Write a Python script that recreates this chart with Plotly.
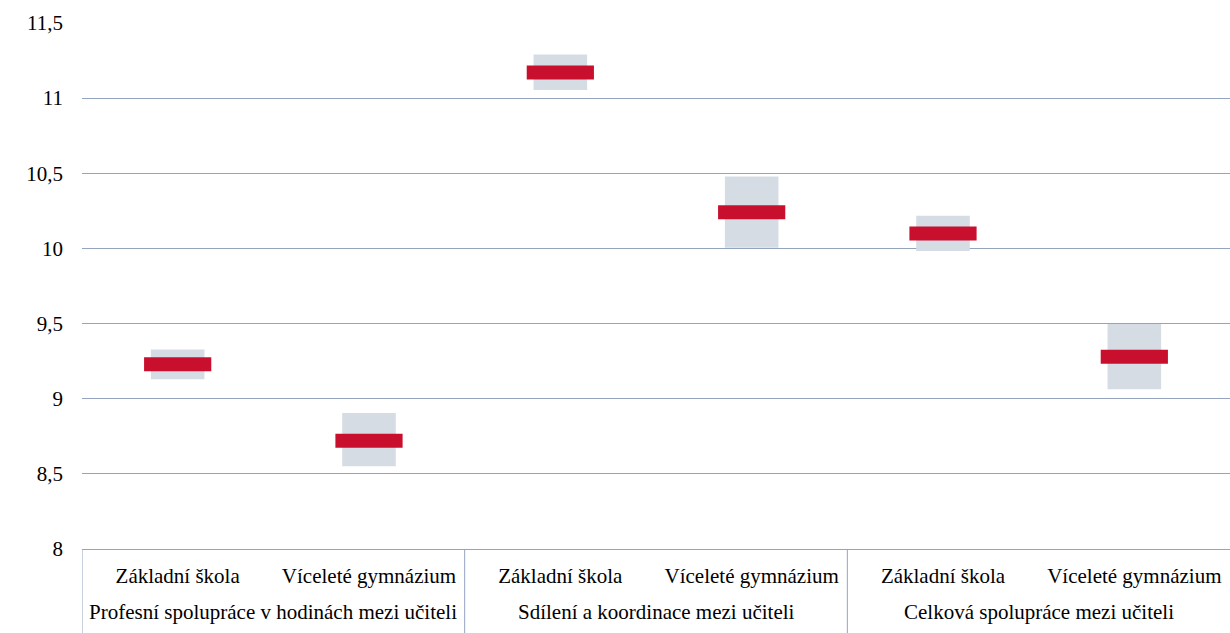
import plotly.graph_objects as go

groups = ["Profesní spolupráce v hodinách mezi učiteli",
          "Sdílení a koordinace mezi učiteli",
          "Celková spolupráce mezi učiteli"]
school_types = ["Základní škola", "Víceleté gymnázium"]

means = [9.23, 8.72, 11.17, 10.24, 10.10, 9.28]
ci_low = [9.13, 8.55, 11.055, 10.005, 9.983, 9.063]
ci_high = [9.328, 8.905, 11.29, 10.479, 10.217, 9.497]

x_inner = [s for _ in groups for s in school_types]
xs = list(range(len(x_inner)))
k = len(school_types)

GRID = "#94A3BE"
FONT = "Liberation Serif"
FS = 21

fig = go.Figure()
fig.add_trace(go.Bar(
    x=xs,
    y=[h - l for h, l in zip(ci_high, ci_low)],
    base=ci_low,
    width=0.28,
    marker=dict(color="#D5DCE4", line=dict(width=0)),
    hoverinfo="skip",
    showlegend=False,
))
fig.add_trace(go.Scatter(
    x=xs,
    y=means,
    mode="markers",
    marker=dict(symbol="line-ew", size=48,
                line=dict(color="#C8102E", width=14)),
    showlegend=False,
))

# group labels and dividers
for gi, g in enumerate(groups):
    center = gi * k + (k - 1) / 2
    fig.add_annotation(x=center, xref="x", y=0, yref="paper",
                       yanchor="middle", yshift=-63, showarrow=False,
                       text=g, font=dict(family=FONT, size=FS, color="#000000"))
    fig.add_shape(type="line", xref="x", yref="paper",
                  x0=gi * k - 0.5, x1=gi * k - 0.5, y0=0, y1=-0.2,
                  line=dict(color=GRID, width=1))

fig.update_layout(
    width=1230, height=633,
    margin=dict(l=82, r=0, t=23, b=84, autoexpand=False),
    paper_bgcolor="white", plot_bgcolor="white",
    separators=", ",
    font=dict(family=FONT, size=FS, color="#000000"),
    barmode="overlay",
    xaxis=dict(
        range=[-0.5, len(xs) - 0.5],
        tickvals=xs, ticktext=x_inner,
        automargin=False,
        showgrid=False, zeroline=False,
        showline=True, linecolor=GRID, linewidth=1,
        ticks="",
        ticklabelstandoff=8,
        tickfont=dict(family=FONT, size=FS, color="#000000"),
    ),
    yaxis=dict(
        automargin=False,
        range=[8, 11.5], dtick=0.5, tick0=8,
        showgrid=True, gridcolor=GRID, gridwidth=1,
        zeroline=False, showline=False,
        ticklabelstandoff=18,
        tickfont=dict(family=FONT, size=FS, color="#000000"),
    ),
)

fig.write_html("out.html", config={"displayModeBar": False},
               post_script="document.body.style.margin='0';document.body.style.overflow='hidden';")
